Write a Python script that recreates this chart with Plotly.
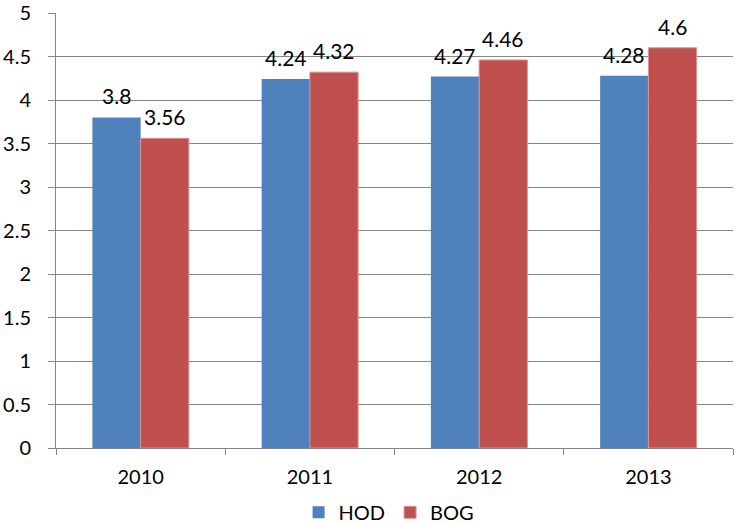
import plotly.graph_objects as go

years = ["2010", "2011", "2012", "2013"]
hod = [3.8, 4.24, 4.27, 4.28]
bog = [3.56, 4.32, 4.46, 4.6]
y_ticks = [0, 0.5, 1, 1.5, 2, 2.5, 3, 3.5, 4, 4.5, 5]

FONT = "Lato"
FS = 20
FS_LABEL = 21
fig = go.Figure()
fig.add_trace(go.Bar(name="HOD", x=years, y=hod,
                     marker=dict(color="#4F81BD", line=dict(width=0))))
fig.add_trace(go.Bar(name="BOG", x=years, y=bog,
                     marker=dict(color="#C0504D", line=dict(color="#D99694", width=1))))

# data labels placed above each bar via data coordinates (category index)
for series, shift in ((hod, -24), (bog, 24)):
    for idx, v in enumerate(series):
        fig.add_annotation(x=idx, y=v, text=f"{v:g}", showarrow=False,
                           xshift=shift, yshift=7, yanchor="bottom", xanchor="center",
                           font=dict(size=FS_LABEL, color="black", family=FONT))

fig.update_layout(
    width=735, height=525,
    margin=dict(l=56, r=2, t=13, b=77, autoexpand=False),
    paper_bgcolor="white", plot_bgcolor="white",
    barmode="group", bargap=0.43, bargroupgap=0,
    font=dict(family=FONT, size=FS, color="black"),
    showlegend=True,
    legend=dict(orientation="h", x=0.492, xanchor="center", y=-0.103, yanchor="top",
                font=dict(size=FS, family=FONT), traceorder="normal",
                itemwidth=30, tracegroupgap=0),
)
fig.update_xaxes(type="category", range=[-0.5, len(years) - 0.5],
                 showline=True, linecolor="#868686", linewidth=1,
                 automargin=False, tickangle=0,
                 ticks="outside", tickson="boundaries", ticklen=6, tickcolor="#868686",
                 ticklabelstandoff=11,
                 showgrid=False, tickfont=dict(size=FS, family=FONT))
fig.update_yaxes(range=[0, 5], tickvals=y_ticks, ticktext=[f"{v:g}" for v in y_ticks],
                 showline=True, linecolor="#868686", linewidth=1, automargin=False,
                 ticks="outside", ticklen=7, tickcolor="#868686",
                 ticklabelstandoff=13,
                 showgrid=True, gridcolor="#868686", gridwidth=1,
                 zeroline=False, tickfont=dict(size=FS, family=FONT))

fig.write_html("out.html", config={"displayModeBar": False},
               post_script="document.body.style.margin='0';")
